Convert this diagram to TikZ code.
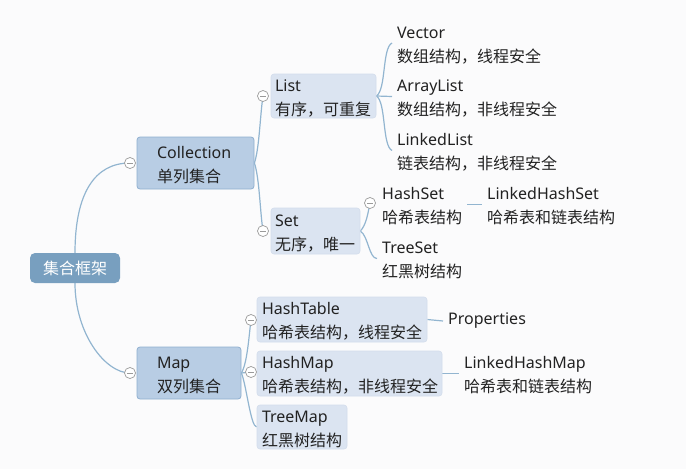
\documentclass[tikz,border=0pt]{standalone}
\usepackage{fontspec}
\setmainfont{Noto Sans}
\newfontfamily\cjk{Noto Sans CJK SC}
\definecolor{bgc}{HTML}{FBFBFC}
\definecolor{linec}{HTML}{92B5D0}
\definecolor{rootc}{HTML}{789FBF}
\definecolor{midc}{HTML}{B8CDE4}
\definecolor{midb}{HTML}{8FAFD0}
\definecolor{leafc}{HTML}{DBE4F1}
\definecolor{leafb}{HTML}{D3DDEC}
\definecolor{txtc}{HTML}{222222}
\definecolor{circc}{HTML}{9A9A9A}
\newcommand{\fstrut}{\rule{0pt}{16pt}}
\pgfdeclarelayer{bg}
\pgfsetlayers{bg,main}
\tikzset{
  base/.style={font=\fontsize{16}{24}\selectfont, text=txtc},
  rootbox/.style={base, rectangle, rounded corners=5pt, fill=rootc, text=white, minimum width=90pt, minimum height=30pt, inner sep=0pt},
  midbox/.style={base, rectangle, rounded corners=3pt, fill=midc, draw=midb, line width=0.8pt, align=left, inner xsep=20pt, inner ysep=0pt, minimum height=52pt},
  leafbox/.style={base, rectangle, rounded corners=3pt, fill=leafc, draw=leafb, line width=0.6pt, align=left, inner ysep=0pt},
  plain/.style={base, align=left, anchor=west, inner xsep=5pt, inner ysep=0pt},
  toggle/.style={circle, draw=circc, fill=white, line width=0.7pt, minimum size=11pt, inner sep=0pt,
    path picture={\draw[circc, line width=0.7pt] ([xshift=-3.2pt]path picture bounding box.center) -- ([xshift=3.2pt]path picture bounding box.center);}},
  conn/.style={draw=linec, line width=1.2pt},
}
\begin{document}
\begin{tikzpicture}[x=1pt,y=-1pt]
\useasboundingbox (0,0) rectangle (686,469);
\begin{pgfonlayer}{bg}
\fill[bgc] (0,0) rectangle (686,469);
\end{pgfonlayer}

% nodes
\node[rootbox] (root) at (75,268) {\cjk 集合框架};
\node[midbox, text width=77pt] (col) at (195.5,163) {\fstrut Collection\\{\cjk 单列集合}};
\node[midbox, text width=64pt] (map) at (189,373) {\fstrut Map\\{\cjk 双列集合}};

\node[leafbox, inner xsep=4pt, text width=97pt, minimum height=44pt] (list) at (323.5,96) {\fstrut List\\{\cjk 有序，可重复}};
\node[leafbox, inner xsep=4pt, text width=81pt, minimum height=46pt] (set) at (315.5,231) {\fstrut Set\\{\cjk 无序，唯一}};

\node[leafbox, inner xsep=5pt, text width=160pt, minimum height=45pt] (ht) at (342,319.5) {\fstrut HashTable\\{\cjk 哈希表结构，线程安全}};
\node[leafbox, inner xsep=5pt, text width=175pt, minimum height=45pt] (hm) at (349.5,373.5) {\fstrut HashMap\\{\cjk 哈希表结构，非线程安全}};
\node[leafbox, inner xsep=5pt, text width=80pt, minimum height=44pt] (tm) at (302,427) {\fstrut TreeMap\\{\cjk 红黑树结构}};

\node[plain] (vec) at (392,43) {\fstrut Vector\\{\cjk 数组结构，线程安全}};
\node[plain] (arr) at (392,96.5) {\fstrut ArrayList\\{\cjk 数组结构，非线程安全}};
\node[plain] (ll) at (392,150.5) {\fstrut LinkedList\\{\cjk 链表结构，非线程安全}};

\node[plain] (hs) at (377,204.5) {\fstrut HashSet\\{\cjk 哈希表结构}};
\node[plain] (ts) at (377,258.5) {\fstrut TreeSet\\{\cjk 红黑树结构}};
\node[plain] (lhs) at (482,204.5) {\fstrut LinkedHashSet\\{\cjk 哈希表和链表结构}};

\node[plain] (prop) at (443,321) {Properties};
\node[plain] (lhm) at (459,373.5) {\fstrut LinkedHashMap\\{\cjk 哈希表和链表结构}};

% toggles
\node[toggle] (cc) at (130,163) {};
\node[toggle] (cm) at (130,373) {};
\node[toggle] (cl) at (263,96) {};
\node[toggle] (cs) at (263,231) {};
\node[toggle] (chs) at (370,203) {};
\node[toggle] (cht) at (251,320) {};
\node[toggle] (chm) at (251,372) {};

% connectors
\begin{pgfonlayer}{bg}
\draw[conn] (root.north) .. controls +(0,-60) and +(-35,0) .. (cc.center);
\draw[conn] (root.south) .. controls +(0,50) and +(-25,0) .. (cm.center);

\draw[conn] (col.east) .. controls +(5,-15) and +(-3,20) .. (cl.center);
\draw[conn] (col.east) .. controls +(5,15) and +(-3,-20) .. (cs.center);

\draw[conn] (list.east) .. controls +(10,-6) and +(-10,5) .. (vec.west);
\draw[conn] (list.east) -- (arr.west);
\draw[conn] (list.east) .. controls +(10,6) and +(-10,-5) .. (ll.west);

\draw[conn] (set.east) .. controls +(6,-6) and +(-2,10) .. (chs.center);
\draw[conn] (set.east) .. controls +(8,5) and +(-8,0) .. (ts.west);
\draw[conn] (hs.east) -- (lhs.west);

\draw[conn] (map.east) .. controls +(6,-10) and +(-2,15) .. (cht.center);
\draw[conn] (map.east) -- (chm.center);
\draw[conn] (map.east) .. controls +(5,12) and +(-6,0) .. (tm.west);
\draw[conn] (ht.east) -- (prop.west);
\draw[conn] (hm.east) -- (lhm.west);
\end{pgfonlayer}
\end{tikzpicture}
\end{document}
